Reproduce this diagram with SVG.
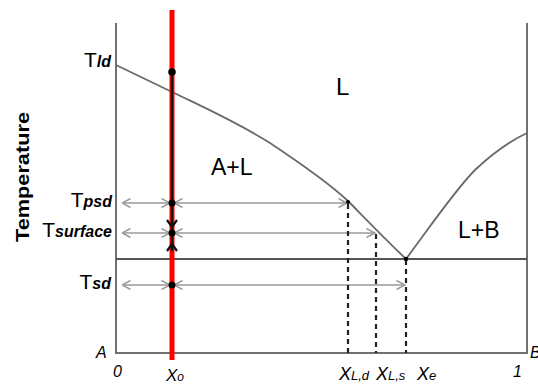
<svg xmlns="http://www.w3.org/2000/svg" width="538" height="385" viewBox="0 0 538 385">
<style>
.axis{stroke:#707070;stroke-width:2;fill:none}
.curve{stroke:#6a6a6a;stroke-width:1.8;fill:none;stroke-linejoin:round}
.arr{stroke:#9a9a9a;stroke-width:1.6;fill:none;marker-start:url(#ah);marker-end:url(#ah)}
.dash{stroke:#222;stroke-width:2.2;stroke-dasharray:5 4;fill:none}
.lbl{font-family:"Liberation Sans",Arial,sans-serif;fill:#000}
.sub{font-style:italic;font-weight:bold}
.it{font-family:"Liberation Sans",Arial,sans-serif;font-style:italic;fill:#000}
</style>
<defs>
<marker id="ah" viewBox="0 0 10 10" refX="9.5" refY="5" markerWidth="10" markerHeight="10" markerUnits="userSpaceOnUse" orient="auto-start-reverse">
<path d="M1,0.5 L9.5,5 L1,9.5" fill="none" stroke="#9a9a9a" stroke-width="1.5"/>
</marker>
</defs>
<rect width="538" height="385" fill="#fff"/>
<g id="frame">
<path class="axis" d="M116,23 V353 H527 V23"/>
<line x1="116" y1="259" x2="527" y2="259" stroke="#555" stroke-width="2"/>
</g>
<g id="liquidus">
<path class="curve" d="M116,65 L170,91 C205,108 235,121 270,143 C300,163 330,184 348,201 C360,213 380,234 406,259"/>
<path class="curve" d="M406,259 C430,227 455,190 475,170 C492,154 508,142 527,133"/>
</g>
<g id="connectors">
<line class="arr" x1="122" y1="203" x2="170" y2="203"/>
<line class="arr" x1="174" y1="203" x2="347" y2="203"/>
<line class="arr" x1="122" y1="233" x2="170" y2="233"/>
<line class="arr" x1="174" y1="233" x2="375" y2="233"/>
<line class="arr" x1="122" y1="285" x2="170" y2="285"/>
<line class="arr" x1="174" y1="285" x2="405" y2="285"/>
<line class="dash" x1="348" y1="204" x2="348" y2="353"/>
<line class="dash" x1="376" y1="234" x2="376" y2="353"/>
<line class="dash" x1="406" y1="260" x2="406" y2="353"/>
</g>
<g id="path-x0">
<line x1="172" y1="10" x2="172" y2="360" stroke="#f00" stroke-width="5"/>
<line x1="172" y1="72" x2="172" y2="251" stroke="#111" stroke-width="2.4"/>
<polyline points="167,220 172,227 177,220" fill="none" stroke="#111" stroke-width="2.2"/>
<polyline points="167,251 172,244 177,251" fill="none" stroke="#111" stroke-width="2.2"/>
<circle cx="172" cy="72" r="3.8" fill="#000"/>
<circle cx="172" cy="203" r="3.5" fill="#000"/>
<circle cx="172" cy="233" r="3.5" fill="#000"/>
<circle cx="172" cy="285" r="3.5" fill="#000"/>
<circle cx="348" cy="202" r="2" fill="#000"/>
<circle cx="406" cy="259" r="2.2" fill="#000"/>
</g>
<g id="temps">
<text class="lbl" x="111" y="67" text-anchor="end" font-size="21">T<tspan class="sub" font-size="16">ld</tspan></text>
<text class="lbl" x="112" y="207" text-anchor="end" font-size="21">T<tspan class="sub" font-size="16">psd</tspan></text>
<text class="lbl" x="112" y="237" text-anchor="end" font-size="21">T<tspan class="sub" font-size="16">surface</tspan></text>
<text class="lbl" x="111" y="289" text-anchor="end" font-size="21">T<tspan class="sub" font-size="16">sd</tspan></text>
<text class="lbl" transform="translate(29,177) rotate(-90)" text-anchor="middle" font-size="18" font-weight="bold" textLength="130" lengthAdjust="spacingAndGlyphs">Temperature</text>
</g>
<g id="regions">
<text class="lbl" x="336" y="95" font-size="24">L</text>
<text class="lbl" x="211" y="175" font-size="23">A+L</text>
<text class="lbl" x="458" y="238" font-size="23">L+B</text>
</g>
<g id="axis-labels">
<text class="it" x="96" y="358" font-size="16">A</text>
<text class="it" x="113" y="377" font-size="16">0</text>
<text class="it" x="513" y="377" font-size="16">1</text>
<text class="it" x="530" y="358" font-size="16">B</text>
<text class="it" x="166" y="381" font-size="17">X<tspan font-size="12">o</tspan></text>
<text class="it" x="339" y="380" font-size="18">X<tspan font-size="13">L,d</tspan></text>
<text class="it" x="376" y="380" font-size="18">X<tspan font-size="13">L,s</tspan></text>
<text class="it" x="417" y="380" font-size="18">X<tspan font-size="13">e</tspan></text>
</g>
</svg>
